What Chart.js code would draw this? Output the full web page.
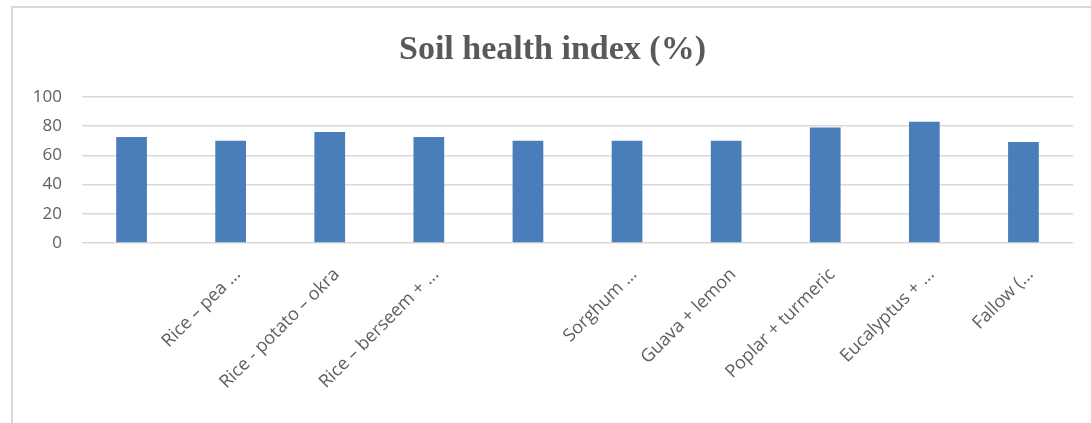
<!DOCTYPE html>
<html>
<head>
<meta charset="utf-8">
<script src="https://cdn.jsdelivr.net/npm/chart.js@4"></script>
<style>
  html, body { margin: 0; padding: 0; background: #ffffff; }
  #wrap { position: relative; width: 1091px; height: 423px; overflow: hidden; }
  #frame { position: absolute; left: 11px; top: 6px; width: 1200px; height: 600px;
           border-left: 2px solid #d9d9d9; border-top: 2px solid #d9d9d9; }
  canvas { position: absolute; left: 0; top: 0; }
</style>
</head>
<body>
<div id="wrap">
  <div id="frame"></div>
  <canvas id="c" width="1109" height="423"></canvas>
</div>
<script>
// Category tick labels as shown (truncated labels kept as they appear; hidden ones blank)
const categories = [
  "",
  "Rice – pea ...",
  "Rice - potato – okra",
  "Rice – berseem + ...",
  "",
  "Sorghum ...",
  "Guava + lemon",
  "Poplar + turmeric",
  "Eucalyptus + ...",
  "Fallow (..."
];
// Soil health index values (%)
const soilHealthIndex = [72.5, 70, 76, 72.5, 70, 70, 70, 79, 83, 69];
const yTicks = [0, 20, 40, 60, 80, 100];
const chartTitle = "Soil health index (%)";

const ctx = document.getElementById('c').getContext('2d');
new Chart(ctx, {
  type: 'bar',
  data: {
    labels: categories,
    datasets: [{
      label: chartTitle,
      data: soilHealthIndex,
      backgroundColor: '#4a7ebb',
      borderWidth: 0,
      barPercentage: 0.31,
      categoryPercentage: 1.0
    }]
  },
  options: {
    responsive: false,
    animation: false,
    devicePixelRatio: 1,
    layout: { padding: { left: 32, right: 36, top: 0, bottom: 0 } },
    plugins: {
      legend: { display: false },
      tooltip: { enabled: false },
      title: {
        display: true,
        text: chartTitle,
        color: '#595959',
        font: { family: '"Liberation Serif", serif', size: 34, weight: 'bold', lineHeight: 1.2 },
        padding: { top: 30, bottom: 26 }
      }
    },
    scales: {
      x: {
        grid: { display: false },
        border: { display: false },
        ticks: {
          autoSkip: false,
          minRotation: 45,
          maxRotation: 45,
          color: '#5f5f5f',
          font: { family: '"Open Sans", sans-serif', size: 18 },
          padding: 13,
          labelOffset: 7
        },
        afterFit: (s) => { s.height = 180; }
      },
      y: {
        min: yTicks[0],
        max: yTicks[yTicks.length - 1],
        afterBuildTicks: (s) => { s.ticks = yTicks.map(v => ({ value: v })); },
        grid: { color: '#d9d9d9', lineWidth: 1.5, drawTicks: false },
        border: { display: false },
        ticks: {
          color: '#5f5f5f',
          font: { family: '"Open Sans", sans-serif', size: 17 },
          padding: 20
        },
        afterFit: (s) => { s.width = 50; }
      }
    }
  }
});
</script>
</body>
</html>
